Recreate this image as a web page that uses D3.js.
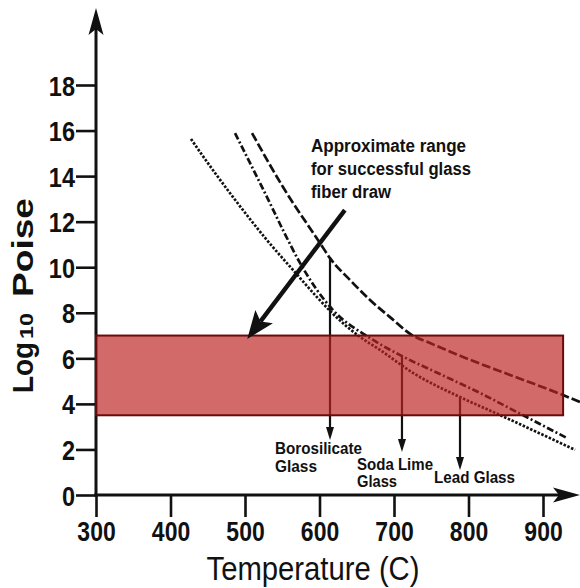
<!DOCTYPE html>
<html>
<head>
<meta charset="utf-8">
<script src="https://cdn.jsdelivr.net/npm/d3@7"></script>
<style>
  html, body { margin: 0; padding: 0; background: #fff; }
  svg { display: block; }
  text { font-family: "Liberation Sans", Arial, Helvetica, sans-serif; }
</style>
</head>
<body>
<svg id="chart" width="580" height="588"></svg>
<script>
// ---------- data ----------
const xTicks = [300, 400, 500, 600, 700, 800, 900];
const yTicks = [0, 2, 4, 6, 8, 10, 12, 14, 16, 18];

// Lead glass (dotted)
const leadT   = [427.5, 439.6, 483.9, 529.5, 564.4, 596.6, 618.1, 654.4, 681.2, 725.5, 788.6, 842.3, 943.0];
const leadLog = [15.63, 15.06, 13.08, 11.19, 9.88, 8.69, 7.95, 6.94, 6.37, 5.36, 4.30, 3.51, 1.98];
// Soda lime glass (dash-dot)
const sodaT   = [486.6, 506.7, 529.5, 551.0, 573.8, 596.6, 618.1, 667.8, 710.7, 761.7, 815.4, 865.1, 932.2];
const sodaLog = [15.89, 14.58, 13.08, 11.63, 10.19, 9.00, 8.12, 6.89, 6.10, 5.31, 4.48, 3.64, 2.50];
// Borosilicate glass (dashed)
const boroT   = [509.4, 551.0, 600.7, 614.1, 640.9, 667.8, 694.6, 724.2, 748.3, 792.6, 855.7, 926.8, 949.7];
const boroLog = [15.89, 13.52, 11.06, 10.40, 9.44, 8.56, 7.81, 7.02, 6.67, 6.06, 5.27, 4.39, 4.08];

// Fiber-draw range band
const bandT   = [300, 927];
const bandLog = [3.5, 7.0];

// Label arrows: T, top log (on curve), tip log
const labelArrowT   = [614.1, 710.7, 788.6];
const labelArrowTop = [10.4, 6.10, 4.30];
const labelArrowTip = [2.41, 1.89, 1.10];

// Big annotation arrow (from -> to)
const noteFromT = 634, noteFromLog = 12.51;
const noteToT = 503, noteToLog = 6.85;
const noteLines = ["Approximate range", "for successful glass", "fiber draw"];

// ---------- helpers ----------
const svg = d3.select("#chart");
const x = d3.scaleLinear().domain([300, 900]).range([96, 543]);
const y = d3.scaleLinear().domain([0, 18]).range([495, 85]);
const ink = "#111";

function squeeze(sel, factor) {
  sel.each(function () {
    const w = this.getComputedTextLength();
    d3.select(this).attr("textLength", w * factor).attr("lengthAdjust", "spacingAndGlyphs");
  });
}
function fit(sel, w) {
  sel.attr("textLength", w).attr("lengthAdjust", "spacingAndGlyphs");
}

// ---------- axes ----------
const yAxis = d3.axisLeft(y).tickValues(yTicks).tickSize(20).tickPadding(1).tickSizeOuter(0);
const gy = svg.append("g").attr("transform", "translate(96,0)").call(yAxis);
gy.select(".domain").remove();
gy.selectAll(".tick line").attr("stroke", ink).attr("stroke-width", 2.6);
gy.selectAll(".tick text").attr("font-family", null).attr("font-size", 28).attr("font-weight", "bold")
  .attr("fill", ink).attr("dy", "0.36em").call(squeeze, 0.84);
gy.attr("font-family", null);

const xAxis = d3.axisBottom(x).tickValues(xTicks).tickSize(22).tickPadding(2).tickSizeOuter(0);
const gx = svg.append("g").attr("transform", "translate(0,495)").call(xAxis);
gx.attr("font-family", null);
gx.select(".domain").remove();
gx.selectAll(".tick line").attr("stroke", ink).attr("stroke-width", 2.6);
gx.selectAll(".tick text").attr("font-size", 28).attr("font-weight", "bold")
  .attr("fill", ink).attr("dy", "0.8em").call(squeeze, 0.82);

// axis lines with arrows
svg.append("line").attr("x1", 96).attr("y1", 495).attr("x2", 96).attr("y2", 20)
  .attr("stroke", ink).attr("stroke-width", 3);
svg.append("path").attr("d", "M96,8 L88.5,35 L96,29 L103.5,35 Z").attr("fill", ink);
svg.append("line").attr("x1", 94).attr("y1", 495).attr("x2", 568).attr("y2", 495)
  .attr("stroke", ink).attr("stroke-width", 3);
svg.append("path").attr("d", "M580,495 L553,487.5 L559,495 L553,502.5 Z").attr("fill", ink);

// ---------- curves ----------
const line = d3.line().x(d => x(d[0])).y(d => y(d[1])).curve(d3.curveMonotoneX);
const curves = [
  { T: boroT, L: boroLog, dash: "9,3" },
  { T: sodaT, L: sodaLog, dash: "7,2.5,2,2.5" },
  { T: leadT, L: leadLog, dash: "2.5,1.6" }
];
curves.forEach(c => {
  svg.append("path").datum(c.T.map((t, i) => [t, c.L[i]]))
    .attr("d", line).attr("fill", "none").attr("stroke", ink)
    .attr("stroke-width", 2.7).attr("stroke-dasharray", c.dash);
});

// label arrows
labelArrowT.forEach((t, i) => {
  const px = x(t), top = y(labelArrowTop[i]), tip = y(labelArrowTip[i]);
  svg.append("line").attr("x1", px).attr("y1", top).attr("x2", px).attr("y2", tip - 6)
    .attr("stroke", ink).attr("stroke-width", 2.2);
  svg.append("path").attr("d", `M${px},${tip} L${px - 4},${tip - 13} L${px + 4},${tip - 13} Z`).attr("fill", ink);
});

// ---------- band ----------
svg.append("rect")
  .attr("x", x(bandT[0])).attr("y", y(bandLog[1]))
  .attr("width", x(bandT[1]) - x(bandT[0])).attr("height", y(bandLog[0]) - y(bandLog[1]))
  .attr("fill", "rgb(190,36,36)").attr("fill-opacity", 0.68)
  .attr("stroke", "#6b0a0a").attr("stroke-width", 2);

// ---------- big annotation arrow ----------
{
  const x1 = x(noteFromT), y1 = y(noteFromLog), x2 = x(noteToT), y2 = y(noteToLog);
  const ang = Math.atan2(y2 - y1, x2 - x1);
  const len = 28, half = 11;
  const bx = x2 - len * Math.cos(ang), by = y2 - len * Math.sin(ang);
  svg.append("line").attr("x1", x1).attr("y1", y1).attr("x2", bx + 6 * Math.cos(ang)).attr("y2", by + 6 * Math.sin(ang))
    .attr("stroke", ink).attr("stroke-width", 4.4);
  const px = -Math.sin(ang), py = Math.cos(ang);
  svg.append("path").attr("d",
    `M${x2},${y2} L${bx + half * px},${by + half * py} L${bx + 6 * Math.cos(ang)},${by + 6 * Math.sin(ang)} L${bx - half * px},${by - half * py} Z`)
    .attr("fill", ink);
}

// annotation text
const noteW = [155, 160, 80];
noteLines.forEach((s, i) => {
  svg.append("text").attr("x", 311).attr("y", 152 + i * 23)
    .attr("font-size", 18).attr("font-weight", "bold").attr("fill", ink)
    .text(s).call(fit, noteW[i]);
});

// glass labels
const lbl = (txt, xx, yy, w) => svg.append("text").attr("x", xx).attr("y", yy)
  .attr("font-size", 16).attr("font-weight", "bold").attr("fill", ink).text(txt).call(fit, w);
lbl("Borosilicate", 275, 454, 87); lbl("Glass", 275, 472, 42);
lbl("Soda Lime", 357, 470, 76); lbl("Glass", 357, 487, 40);
lbl("Lead Glass", 434, 483, 81);

// ---------- axis titles ----------
svg.append("text").attr("x", 313).attr("y", 580).attr("text-anchor", "middle")
  .attr("font-size", 34).attr("fill", ink).text("Temperature (C)").call(fit, 213);

const ytitle = (txt, yStart, size, w) => svg.append("text")
  .attr("transform", `translate(33,${yStart}) rotate(-90)`)
  .attr("font-size", size).attr("font-weight", "bold").attr("fill", ink).text(txt).call(fit, w);
ytitle("Log", 393, 30, 51);
ytitle("10", 339, 18, 26);
ytitle("Poise", 297, 30, 99);
</script>
</body>
</html>
